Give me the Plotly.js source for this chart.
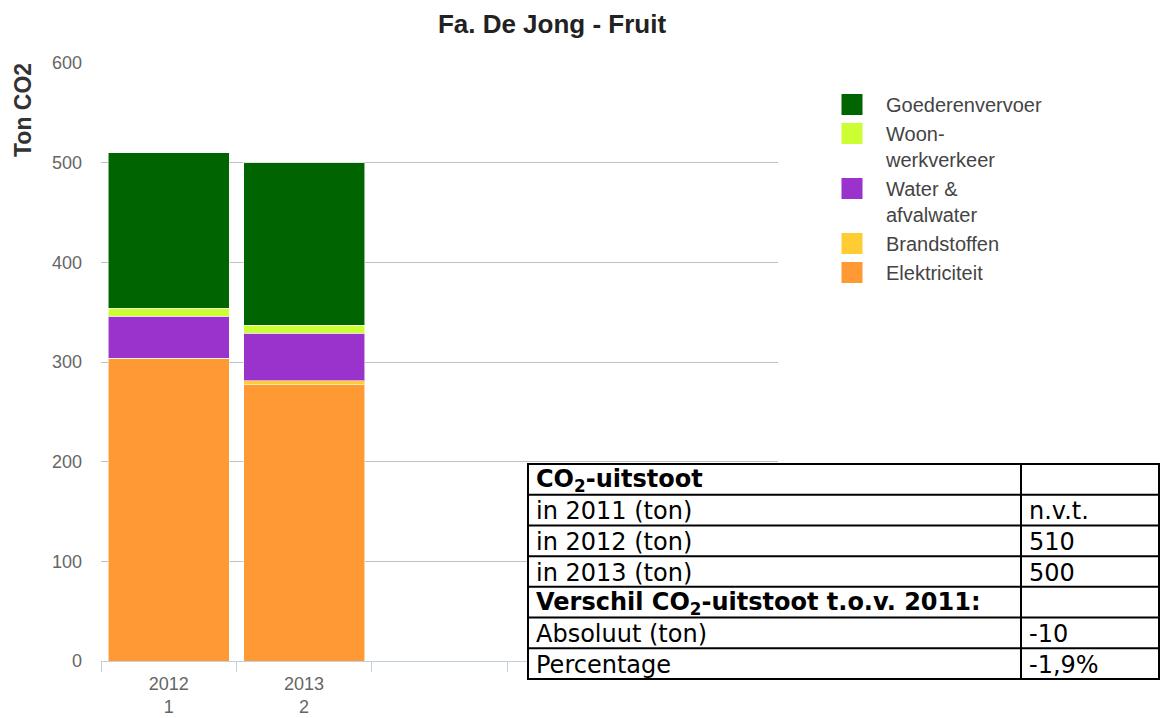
<!DOCTYPE html>
<html>
<head>
<meta charset="utf-8">
<script src="https://cdn.plot.ly/plotly-3.0.1.min.js"></script>
<style>html,body{margin:0;padding:0;background:#fff;}#chart{width:1161px;height:718px;}</style>
</head>
<body>
<div id="chart"></div>
<script>
// ---- data ----
var years = ["2012", "2013"];
var yearIndex = ["1", "2"];
var emptySlots = [" ", "  ", "   "];
var seriesNames = ["Elektriciteit", "Brandstoffen", "Water &<br>afvalwater", "Woon-<br>werkverkeer", "Goederenvervoer"];
var seriesColors = ["#ff9933", "#ffcc33", "#9933cc", "#ccff33", "#006400"];
var elektriciteit = [304, 277];
var brandstoffen = [0, 4];
var waterAfvalwater = [42, 48];
var woonWerkverkeer = [8, 8];
var goederenvervoer = [156, 163];
var yTickVals = [0, 100, 200, 300, 400, 500, 600];

var tableLabels = ["<b>CO<sub>2</sub>-uitstoot</b>", "in 2011 (ton)", "in 2012 (ton)", "in 2013 (ton)",
  "<b>Verschil CO<sub>2</sub>-uitstoot t.o.v. 2011:</b>", "Absoluut (ton)", "Percentage"];
var tableValues = ["", "n.v.t.", "510", "500", "", "-10", "-1,9%"];

// ---- build ----
var xLabels = years.map(function (y, i) { return y + "<br>" + yearIndex[i]; });
var categoryOrder = xLabels.concat(emptySlots);
var seriesValues = [elektriciteit, brandstoffen, waterAfvalwater, woonWerkverkeer, goederenvervoer];

var traces = seriesValues.map(function (vals, i) {
  return {
    type: "bar",
    name: seriesNames[i],
    x: xLabels,
    y: vals,
    showlegend: false,
    marker: { color: seriesColors[i], line: { width: 1, color: "rgba(255,255,255,0.55)" } },
    hoverinfo: "name+y"
  };
});
// legend entries (larger swatches than the bar legend glyph)
seriesValues.forEach(function (vals, i) {
  traces.push({
    type: "scatter", mode: "markers", name: seriesNames[i],
    x: [null], y: [null], showlegend: true, hoverinfo: "skip",
    marker: { symbol: "square", size: 16, color: seriesColors[i], line: { width: 5, color: seriesColors[i] } }
  });
});

var W = 1161, H = 718;
var L = 101, R = 383, T = 63, B = 57;
var pw = W - L - R, ph = H - T - B;
function px2x(p) { return (p - L) / pw; }
function px2y(p) { return (H - B - p) / ph; }

// table geometry (pixels)
var tL = 528, tR = 1159, tMid = 1021, tTop = 464, tBot = 679;
var nRows = tableLabels.length;
var rh = (tBot - tTop) / nRows;

var shapes = [];
shapes.push({ type: "rect", xref: "paper", yref: "paper", x0: px2x(tL), x1: px2x(tR), y0: px2y(tTop), y1: px2y(tBot),
  fillcolor: "#ffffff", line: { color: "#000", width: 2 }, layer: "above" });
for (var r = 1; r < nRows; r++) {
  var yy = tTop + r * rh;
  shapes.push({ type: "line", xref: "paper", yref: "paper", x0: px2x(tL), x1: px2x(tR), y0: px2y(yy), y1: px2y(yy),
    line: { color: "#000", width: 2 }, layer: "above" });
}
shapes.push({ type: "line", xref: "paper", yref: "paper", x0: px2x(tMid), x1: px2x(tMid), y0: px2y(tTop), y1: px2y(tBot),
  line: { color: "#000", width: 2 }, layer: "above" });

var annotations = [];
tableLabels.forEach(function (lab, i) {
  var cy = tTop + (i + 0.5) * rh + 1;
  annotations.push({ xref: "paper", yref: "paper", x: px2x(tL + 6), y: px2y(cy), xanchor: "left", yanchor: "middle",
    text: lab, showarrow: false, font: { family: "DejaVu Sans", size: 24, color: "#000" } });
  annotations.push({ xref: "paper", yref: "paper", x: px2x(tMid + 6), y: px2y(cy), xanchor: "left", yanchor: "middle",
    text: tableValues[i], showarrow: false, font: { family: "DejaVu Sans", size: 24, color: "#000" } });
});
annotations.push({ xref: "paper", yref: "paper", x: px2x(23), y: px2y(110), xanchor: "center", yanchor: "middle",
  text: "<b>Ton CO2</b>", textangle: -90, showarrow: false,
  font: { family: "Liberation Sans", size: 23, color: "#333" } });

var layout = {
  width: W, height: H,
  margin: { l: L, r: R, t: T, b: B, pad: 0 },
  paper_bgcolor: "#ffffff", plot_bgcolor: "#ffffff",
  font: { family: "Liberation Sans, Arial, sans-serif", color: "#666" },
  title: { text: "<b>Fa. De Jong - Fruit</b>", x: 552 / W, xanchor: "center", xref: "container",
    y: 1 - 24 / H, yanchor: "middle", yref: "container",
    font: { family: "Liberation Sans", size: 26, color: "#222" } },
  barmode: "stack",
  bargap: 0.105,
  showlegend: true,
  legend: { x: px2x(818), y: px2y(85), xanchor: "left", yanchor: "top", traceorder: "reversed", itemwidth: 58,
    valign: "top",
    font: { family: "Liberation Sans", size: 20, color: "#444" }, bgcolor: "rgba(0,0,0,0)" },
  xaxis: {
    type: "category", categoryorder: "array", categoryarray: categoryOrder,
    range: [-0.5, 4.5], tickson: "boundaries", ticks: "outside", ticklen: 10,
    tickcolor: "#c0d0e0", tickwidth: 1, showline: true, linecolor: "#c0d0e0", linewidth: 1,
    showgrid: false, zeroline: false, fixedrange: true, ticklabelstandoff: 6,
    tickfont: { family: "Liberation Sans", size: 18, color: "#666" }
  },
  yaxis: {
    range: [0, 600], tickvals: yTickVals, ticks: "", showline: false, showgrid: true,
    gridcolor: "#c0c0c0", gridwidth: 1, zeroline: false, ticklabelstandoff: 18,
    tickfont: { family: "Liberation Sans", size: 18, color: "#666" }
  },
  shapes: shapes,
  annotations: annotations
};

Plotly.newPlot("chart", traces, layout, { displayModeBar: false, staticPlot: true });
</script>
</body>
</html>
